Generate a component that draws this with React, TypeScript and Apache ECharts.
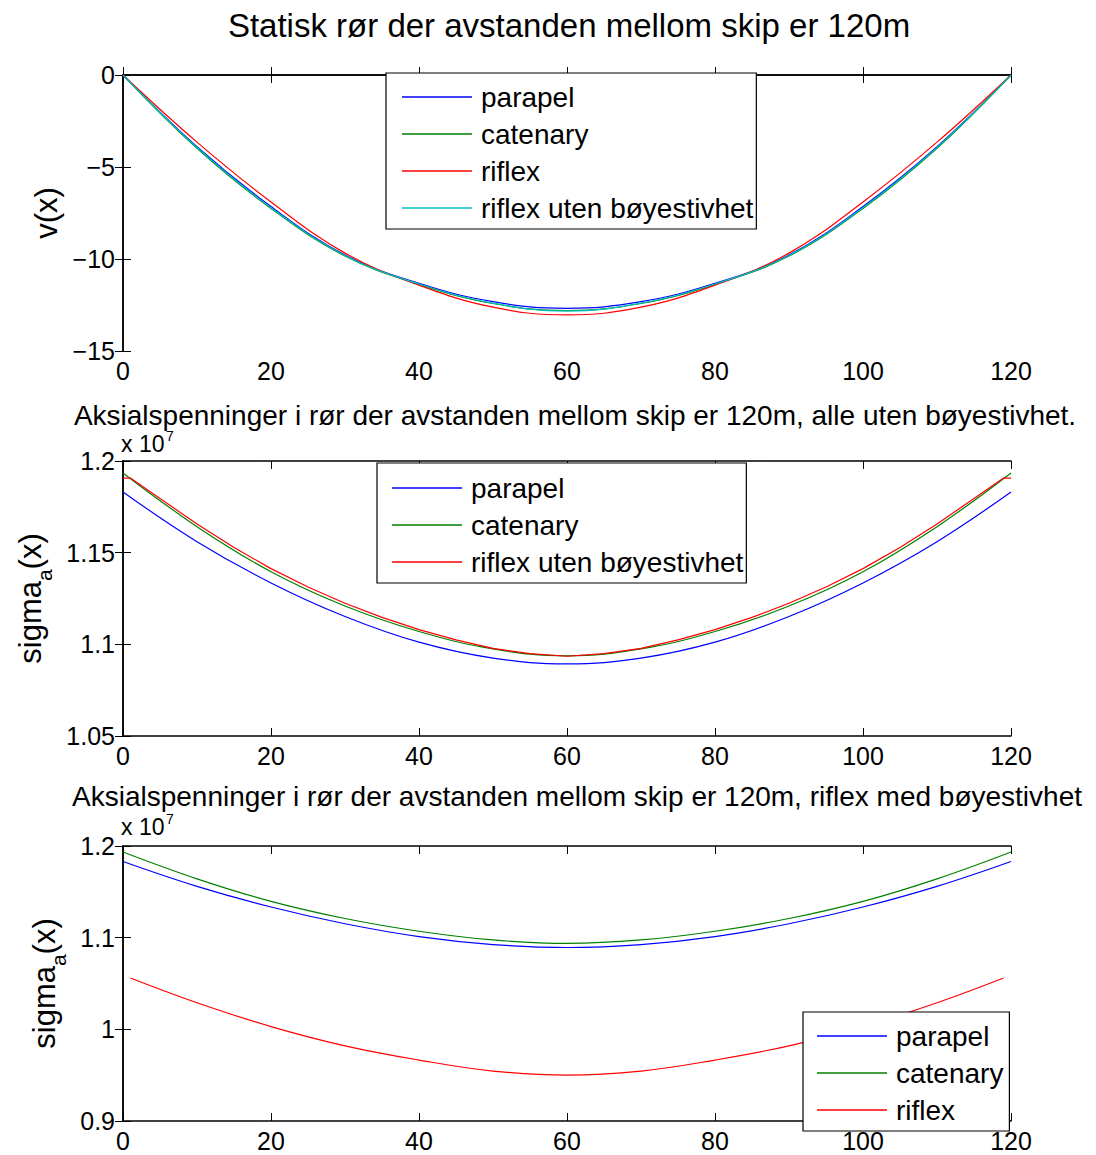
import React, { useEffect, useRef } from "react";
import * as echarts from "echarts";

// ---- data ----
const xTop = [0, 10, 20, 30, 40, 50, 60, 70, 80, 90, 100, 110, 120];
const vParapel = [0, -3.9, -7.15, -9.78, -11.32, -12.32, -12.68, -12.32, -11.32, -9.78, -7.15, -3.9, 0];
const vCatenary = [0, -3.98, -7.25, -9.84, -11.38, -12.42, -12.8, -12.42, -11.38, -9.84, -7.25, -3.98, 0];
const vRiflex = [0, -3.65, -6.9, -9.68, -11.42, -12.62, -13.04, -12.62, -11.42, -9.68, -6.9, -3.65, 0];
const vRiflexUten = [0, -3.94, -7.21, -9.81, -11.36, -12.4, -12.83, -12.4, -11.36, -9.81, -7.21, -3.94, 0];

// axial stresses, in units of 1e7
const xSigma = [0, 10, 20, 30, 40, 50, 60, 70, 80, 90, 100, 110, 120];
const sParapel = [1.1831, 1.156, 1.1335, 1.1152, 1.1012, 1.0925, 1.0893, 1.0925, 1.1012, 1.1152, 1.1335, 1.156, 1.1831];
const sCatenary = [1.1935, 1.1642, 1.1396, 1.1209, 1.107, 1.0975, 1.0937, 1.0975, 1.107, 1.1209, 1.1396, 1.1642, 1.1935];
const xRiflexUten = [0, 1, 5, 10, 15, 20, 25, 30, 35, 40, 45, 50, 55, 60, 65, 70, 75, 80, 85, 90, 95, 100, 105, 110, 115, 119, 120];
const sRiflexUten = [1.1907, 1.1907, 1.1795, 1.1657, 1.1528, 1.1413, 1.1313, 1.1224, 1.1147, 1.108, 1.1024, 1.0978, 1.0949, 1.0935, 1.0949, 1.0978, 1.1024, 1.108, 1.1147, 1.1224, 1.1313, 1.1413, 1.1528, 1.1657, 1.1795, 1.1907, 1.1907];
const xRiflex = [1, 10, 20, 30, 40, 50, 60, 70, 80, 90, 100, 110, 119];
const sRiflex = [1.056, 1.029, 1.003, 0.982, 0.9665, 0.9545, 0.95, 0.9545, 0.9665, 0.982, 1.003, 1.029, 1.056];

const SCALE = 1e7;

const titles = [
  "Statisk rør der avstanden mellom skip er 120m",
  "Aksialspenninger i rør der avstanden mellom skip er 120m, alle uten bøyestivhet.",
  "Aksialspenninger i rør der avstanden mellom skip er 120m, riflex med bøyestivhet",
];

const BLUE = "#0000ff";
const GREEN = "#008000";
const RED = "#ff0000";
const CYAN = "#00bfbf";
const FONT = "Liberation Sans, Arial, Helvetica, sans-serif";

const zip = (xs: number[], ys: number[], k = 1) => xs.map((x, i) => [x, ys[i] * k]);

export default function App() {
  const ref = useRef<HTMLDivElement>(null);
  useEffect(() => {
    document.body.style.margin = "0";
    const chart = echarts.init(ref.current!, null, { renderer: "svg" });

    const grids = [
      { left: 123, top: 75, width: 888, height: 276 },
      { left: 123, top: 461, width: 888, height: 275 },
      { left: 123, top: 846, width: 888, height: 275 },
    ];
    const axisLine = { show: true, lineStyle: { color: "#000", width: 1.5 } };
    const tick = { show: true, inside: true, length: 8, lineStyle: { color: "#000", width: 1 } };
    const labelStyle = { fontSize: 25, color: "#000", fontFamily: FONT };

    const xAxes: any[] = [];
    const yAxes: any[] = [];
    const yDefs = [
      { min: -15, max: 0, interval: 5, fmt: (v: number) => (v < 0 ? "\u2212" + Math.abs(v) : String(v)), name: "v(x)", gap: 58 },
      { min: 1.05 * SCALE, max: 1.2 * SCALE, interval: 0.05 * SCALE, fmt: (v: number) => String(+(v / SCALE).toFixed(2)), name: "{n|sigma}{s|a}{n|(x)}", gap: 46 },
      { min: 0.9 * SCALE, max: 1.2 * SCALE, interval: 0.1 * SCALE, fmt: (v: number) => String(+(v / SCALE).toFixed(2)), name: "{n|sigma}{s|a}{n|(x)}", gap: 46 },
    ];
    grids.forEach((_, gi) => {
      xAxes.push({
        type: "value", gridIndex: gi, min: 0, max: 120, interval: 20, position: "bottom",
        axisLine, axisTick: tick, splitLine: { show: false },
        axisLabel: { ...labelStyle, margin: 7, showMinLabel: true, showMaxLabel: true },
      });
      xAxes.push({
        type: "value", gridIndex: gi, min: 0, max: 120, interval: 20, position: "top",
        axisLine, axisTick: tick, splitLine: { show: false }, axisLabel: { show: false },
      });
      const d = yDefs[gi];
      yAxes.push({
        type: "value", gridIndex: gi, min: d.min, max: d.max, interval: d.interval, position: "left",
        axisLine, axisTick: tick, splitLine: { show: false },
        axisLabel: { ...labelStyle, margin: 8, formatter: d.fmt, showMinLabel: true, showMaxLabel: true },
        name: d.name, nameLocation: "middle", nameGap: d.gap, nameRotate: 90,
        nameTextStyle: {
          fontSize: 31, color: "#000", fontFamily: FONT,
          rich: {
            n: { fontSize: 31, color: "#000", fontFamily: FONT, lineHeight: 40, verticalAlign: "top" },
            s: { fontSize: 21, color: "#000", fontFamily: FONT, lineHeight: 20, verticalAlign: "bottom" },
          },
        },
      });
      yAxes.push({
        type: "value", gridIndex: gi, min: d.min, max: d.max, interval: d.interval, position: "right",
        axisLine, axisTick: tick, splitLine: { show: false }, axisLabel: { show: false },
      });
    });

    const line = (name: string, color: string, gi: number, data: number[][], smooth: any = 0.4) => ({
      type: "line", name, xAxisIndex: 2 * gi, yAxisIndex: 2 * gi, data,
      showSymbol: false, symbol: "none", smooth,
      lineStyle: { color, width: 1.2 }, itemStyle: { color }, z: 2,
    });

    const series = [
      line("parapel", BLUE, 0, zip(xTop, vParapel)),
      line("catenary", GREEN, 0, zip(xTop, vCatenary)),
      line("riflex", RED, 0, zip(xTop, vRiflex)),
      line("riflex uten bøyestivhet", CYAN, 0, zip(xTop, vRiflexUten)),
      line("parapel", BLUE, 1, zip(xSigma, sParapel, SCALE)),
      line("catenary", GREEN, 1, zip(xSigma, sCatenary, SCALE)),
      line("riflex uten bøyestivhet", RED, 1, zip(xRiflexUten, sRiflexUten, SCALE), false),
      line("parapel", BLUE, 2, zip(xSigma, sParapel, SCALE)),
      line("catenary", GREEN, 2, zip(xSigma, sCatenary, SCALE)),
      line("riflex", RED, 2, zip(xRiflex, sRiflex, SCALE)),
    ];

    const legendBase = {
      orient: "vertical", selectedMode: false, itemWidth: 70, itemHeight: 1.5, icon: "rect",
      itemGap: 7, backgroundColor: "#fff", borderColor: "#000", borderWidth: 1.2,
      textStyle: { fontSize: 28, color: "#000", fontFamily: FONT, lineHeight: 30, padding: [0, 0, 0, 4] },
      z: 10,
    };
    const item = (name: string, color: string) => ({ name, icon: "rect", itemStyle: { color, borderWidth: 0 } });
    const legend = [
      {
        ...legendBase, left: 386, top: 73, padding: [9, 3, 6, 16],
        data: [item("parapel", BLUE), item("catenary", GREEN), item("riflex", RED), item("riflex uten bøyestivhet", CYAN)],
      },
      {
        ...legendBase, left: 377, top: 463, padding: [10, 3, 6, 15],
        data: [item("parapel", BLUE), item("catenary", GREEN), item("riflex uten bøyestivhet", RED)],
      },
      {
        ...legendBase, left: 803, top: 1012, padding: [9, 6, 6, 14],
        data: [item("parapel", BLUE), item("catenary", GREEN), item("riflex", RED)],
      },
    ];

    const txt = (text: string, x: number, y: number, size: number, align = "center") => ({
      type: "text", x, y, z: 20,
      style: { text, fontSize: size, fontFamily: FONT, fill: "#000", textAlign: align, textVerticalAlign: "middle" },
    });

    chart.setOption({
      animation: false,
      backgroundColor: "#fff",
      grid: grids,
      xAxis: xAxes,
      yAxis: yAxes,
      legend,
      series,
      graphic: [
        txt(titles[0], 569, 25, 33),
        txt(titles[1], 575, 415, 28),
        txt(titles[2], 577, 796, 28),
        txt("x 10", 121, 444, 23, "left"),
        txt("7", 166, 436, 14, "left"),
        txt("x 10", 121, 827, 23, "left"),
        txt("7", 166, 819, 14, "left"),
      ],
    });
    return () => chart.dispose();
  }, []);
  return <div ref={ref} style={{ width: 1096, height: 1155 }} />;
}
